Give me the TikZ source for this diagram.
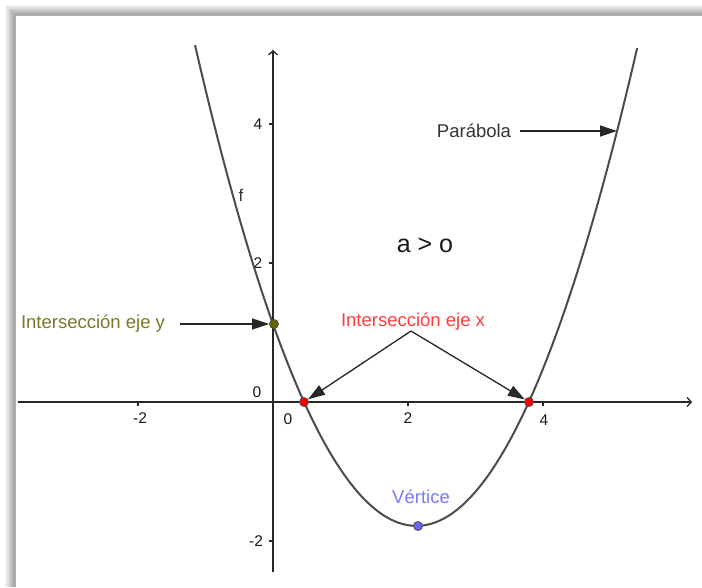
\documentclass[tikz,border=0pt]{standalone}
\usepackage{fontspec}
\setmainfont{Liberation Sans}
\usetikzlibrary{arrows.meta}
\definecolor{olivept}{RGB}{102,102,0}
\definecolor{olivetxt}{RGB}{120,120,40}
\definecolor{redtxt}{RGB}{255,60,60}
\definecolor{bluept}{RGB}{100,100,255}
\definecolor{bluetxt}{RGB}{120,120,255}
\begin{document}
\begin{tikzpicture}[x=1pt,y=-1pt,
  axis/.style={line width=1.3pt, black!85},
  curve/.style={line width=2pt, black!70},
  callout/.style={line width=1.3pt, black!85, -{Triangle[length=17pt,width=11pt]}},
  lbl/.style={font=\fontsize{18.5}{20}\selectfont, inner sep=0pt},
  ticklbl/.style={font=\fontsize{15.5}{16}\selectfont, inner sep=0pt, black!90},
  pt/.style={circle, draw=black!70, line width=0.8pt, minimum size=9pt, inner sep=0pt}]
\useasboundingbox (0,0) rectangle (702,587);
% frame with shadow
\fill[black!5] (5,5) rectangle (702,587);
\fill[black!12] (7,7) rectangle (702,587);
\fill[black!20] (9,9) rectangle (702,587);
\fill[black!27] (11,11) rectangle (702,587);
\fill[black!33] (13,13) rectangle (702,587);
\fill[white] (16,16) rectangle (702,587);
% axes
\coordinate (xl) at (18,402);
\coordinate (xr) at (692,402);
\coordinate (yb) at (273,572);
\coordinate (yt) at (273,50);
\draw[axis,-{Straight Barb[length=4pt,width=9pt]}] (xl) -- (xr);
\draw[axis,-{Straight Barb[length=4pt,width=9pt]}] (yb) -- (yt);
% ticks
\foreach \tx in {138,408,543} \draw[axis] (\tx,402) -- (\tx,406);
\foreach \ty in {124,263,541} \draw[axis] (273,\ty) -- (269,\ty);
\node[ticklbl] (tm2) at (140,418) {-2};
\node[ticklbl] (t0x) at (288,419) {0};
\node[ticklbl] (t2) at (408,418) {2};
\node[ticklbl] (t4) at (544,420) {4};
\node[ticklbl] (t0y) at (257,392) {0};
\node[ticklbl] (ty4) at (258,124) {4};
\node[ticklbl] (ty2) at (258,263) {2};
\node[ticklbl] (tym2) at (256,541) {-2};
% parabola
\draw[curve] plot[domain=-1.155:5.395, samples=120, smooth]
  ({273+67.5*\x},{402-69.5*0.643*(\x-0.46)*(\x-3.79)});
% points
\node[pt, fill=olivept] (yint) at (274,324) {};
\node[pt, fill=red] (r1) at (304,402) {};
\node[pt, fill=red] (r2) at (529,402) {};
\node[pt, fill=bluept] (vx) at (418,526) {};
% labels
\node[lbl, black!80] (par) at (474,131) {Parábola};
\coordinate (parpt) at (617,131);
\draw[callout] (520,131) -- (parpt);
\node[font=\fontsize{17}{18}\selectfont, inner sep=0pt, black!80] (f) at (241,195) {f};
\node[font=\fontsize{25}{26}\selectfont, inner sep=0pt, black!90] (cond) at (425,245) {a > o};
\node[lbl, olivetxt] (ly) at (93,324) {Intersección eje y};
\draw[callout] (180,324) -- (yint);
\node[lbl, redtxt] (lx) at (413,322) {Intersección eje x};
\coordinate (fork) at (411,331);
\draw[callout] (fork) -- (r1);
\draw[callout] (fork) -- (r2);
\node[lbl, bluetxt] (lv) at (421,497) {Vértice};
\end{tikzpicture}
\end{document}
